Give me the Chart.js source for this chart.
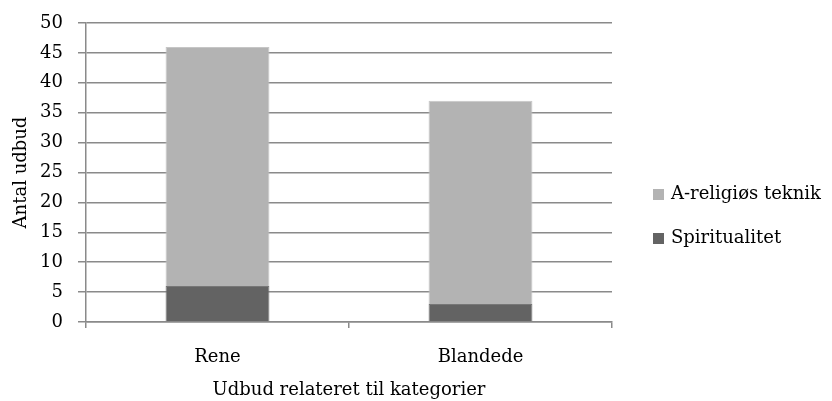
<!DOCTYPE html>
<html>
<head>
<meta charset="utf-8">
<script src="https://cdn.jsdelivr.net/npm/chart.js@4/dist/chart.umd.min.js"></script>
<style>
  html, body { margin: 0; padding: 0; background: #fff; }
  #wrap { width: 832px; height: 401px; }
</style>
</head>
<body>
<div id="wrap"><canvas id="c" width="832" height="401"></canvas></div>
<script>
const categories = ["Rene", "Blandede"];
const spiritualitet = [6, 3];
const areligioesTeknik = [40, 34];
const yTicks = [0, 5, 10, 15, 20, 25, 30, 35, 40, 45, 50];

const FONT = "'DejaVu Serif', 'Liberation Serif', serif";
const FONT_SIZE = 18;
const GRID = "#8a8a8a";

// Legend drawn beside the plot area, last series on top, with square swatches.
const sideLegend = {
  id: "sideLegend",
  afterDraw(chart) {
    const { ctx, chartArea } = chart;
    const sets = chart.data.datasets.slice().reverse();
    const x = chartArea.right + 41;
    const midY = (chartArea.top + chartArea.bottom) / 2;
    const step = 44;
    const box = 11;
    ctx.save();
    ctx.font = FONT_SIZE + "px " + FONT;
    ctx.textBaseline = "middle";
    ctx.textAlign = "left";
    sets.forEach((ds, i) => {
      const y = midY + 22 + i * step;
      ctx.fillStyle = ds.backgroundColor;
      ctx.fillRect(x, y - box / 2, box, box);
      ctx.fillStyle = "#000";
      ctx.fillText(ds.label, x + box + 7, y);
    });
    ctx.restore();
  }
};

new Chart(document.getElementById("c"), {
  type: "bar",
  data: {
    labels: categories,
    datasets: [
      {
        label: "Spiritualitet",
        data: spiritualitet,
        backgroundColor: "#636363",
        borderColor: "#777777",
        borderWidth: 1,
        categoryPercentage: 1,
        barPercentage: 0.395
      },
      {
        label: "A-religiøs teknik",
        data: areligioesTeknik,
        backgroundColor: "#b3b3b3",
        borderColor: "#c6c6c6",
        borderWidth: 1,
        categoryPercentage: 1,
        barPercentage: 0.395
      }
    ]
  },
  options: {
    responsive: false,
    animation: false,
    layout: { padding: { left: 4, right: 220, top: 23, bottom: 0 } },
    plugins: {
      tooltip: { enabled: false },
      legend: { display: false }
    },
    scales: {
      x: {
        stacked: true,
        afterFit: (axis) => { axis.height = 79; },
        grid: {
          display: true,
          offset: true,
          drawOnChartArea: false,
          drawTicks: true,
          tickLength: 6,
          color: GRID,
          lineWidth: 1.5
        },
        border: { display: true, color: GRID, width: 1.5 },
        ticks: {
          font: { family: FONT, size: FONT_SIZE },
          color: "#000",
          padding: 19
        },
        title: {
          display: true,
          text: "Udbud relateret til kategorier",
          font: { family: FONT, size: FONT_SIZE },
          color: "#000",
          padding: { top: 0, bottom: 0 }
        }
      },
      y: {
        stacked: true,
        min: 0,
        max: 50,
        afterBuildTicks: (axis) => { axis.ticks = yTicks.map(v => ({ value: v })); },
        afterFit: (axis) => {
          axis.width = 82;
          axis.paddingTop = 0;
          axis.paddingBottom = 0;
        },
        grid: {
          color: GRID,
          lineWidth: 1.5,
          tickLength: 8
        },
        border: { display: true, color: GRID, width: 1.5 },
        ticks: {
          font: { family: FONT, size: FONT_SIZE },
          color: "#000",
          padding: 15
        },
        title: {
          display: true,
          text: "Antal udbud",
          font: { family: FONT, size: FONT_SIZE },
          color: "#000",
          padding: { top: 7, bottom: 0 }
        }
      }
    }
  },
  plugins: [sideLegend]
});
</script>
</body>
</html>
